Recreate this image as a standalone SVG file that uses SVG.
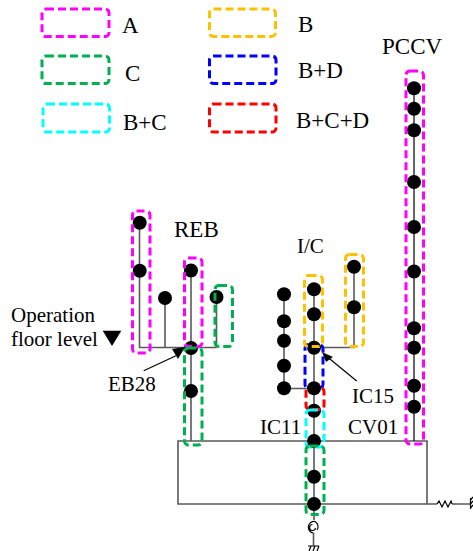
<svg xmlns="http://www.w3.org/2000/svg" width="473" height="551" viewBox="0 0 473 551">
<style>
text{font-family:"Liberation Serif","Times New Roman",serif;fill:#000;font-size:21px}
.t{font-size:23px}
.b{fill:none;stroke-width:3;stroke-dasharray:8 4}
.m{stroke:#ff00ff}.o{stroke:#ffc000}.g{stroke:#00b050}.u{stroke:#0000ff}.c{stroke:#00ffff}.r{stroke:#ff0000}
.l{fill:none;stroke:#595959;stroke-width:1.6}
.k{fill:none;stroke:#000;stroke-width:1.2}
circle{fill:#000}
</style>
<rect width="473" height="551" fill="#fff"/>
<g id="legend">
<rect class="b m" x="42" y="9" width="67" height="27.500" rx="4"/><text class="t" x="122" y="33">A</text>
<rect class="b o" x="209.500" y="9" width="66" height="27.500" rx="4"/><text class="t" x="298" y="32">B</text>
<rect class="b g" x="42" y="56" width="67" height="27.500" rx="4"/><text class="t" x="125" y="81">C</text>
<rect class="b u" x="209.500" y="56" width="66.500" height="27.500" rx="4"/><text class="t" x="298" y="77.500">B+D</text>
<rect class="b c" x="43" y="104" width="66.500" height="28" rx="4"/><text class="t" x="123" y="130">B+C</text>
<rect class="b r" x="209.500" y="104" width="66.500" height="28" rx="4"/><text class="t" x="296" y="128">B+C+D</text>
</g>
<g id="connectors">
<path class="l" d="M178 441H427V504H178V441Z"/>
<path class="l" d="M427 504H437M452 504H470"/>
<path class="k" d="M437 504l2-3 3 6 3-6 3 6 3-6 1 3"/>
<path class="k" d="M470.500 498V509M470.500 500l2.500-3M470.500 504l2.500-3M470.500 508l2.500-3"/>
<path class="l" d="M139.500 222V347.500H216.500M165 298V347.500M191 270V441M216.500 297V347.500"/>
<path class="l" d="M314 289V520M313.500 533V546M284 294V388.500H314M314 347.500H354V267"/>
<path class="k" d="M414 88V441"/>
<path class="k" d="M143.700 370.700L176 355.700M356.700 381L325 355"/>
<path class="k" d="M315 521.500A5.800 5.800 0 1 0 313.500 533M315 521.500A5.800 5.800 0 0 1 317 530M312.500 524.500A3 3 0 1 0 315.500 528"/>
<path class="k" d="M308 546H319M309 551l2-5M313 551l2-5M317 551l2-5"/>
</g>
<g id="reb">
<circle cx="139.700" cy="222.700" r="7"/><circle cx="139.700" cy="270.700" r="7"/><circle cx="165" cy="298" r="7"/><circle cx="191" cy="270.500" r="7"/><circle cx="216.500" cy="297" r="7"/><circle cx="191" cy="348" r="7"/><circle cx="191" cy="391" r="7"/>
<rect class="b m" x="132.500" y="211" width="17.500" height="142" rx="4"/>
<rect class="b m" x="184.500" y="258" width="17.500" height="88.500" rx="4"/>
<rect class="b g" x="215" y="285.500" width="17.500" height="61" rx="4"/>
<rect class="b g" x="184.500" y="348" width="17.500" height="97" rx="4"/>
<path d="M172 349L185 347L178 359Z" fill="#000"/>
<text class="t" x="174" y="237">REB</text>
</g>
<g id="floor">
<text x="11" y="322">Operation</text><text x="11" y="346" font-size="20.500">floor level</text>
<path d="M102.700 330.700H121.300L112 346Z" fill="#000"/>
<text x="108" y="391">EB28</text>
</g>
<g id="ic">
<circle cx="284" cy="294.300" r="7"/><circle cx="284" cy="321.300" r="7"/><circle cx="284" cy="340.700" r="7"/><circle cx="284" cy="365.700" r="7"/><circle cx="284" cy="388.300" r="7"/>
<circle cx="314" cy="289.300" r="7"/><circle cx="314" cy="314.300" r="7"/><circle cx="314" cy="410.700" r="7"/><circle cx="314" cy="441" r="7"/><circle cx="314" cy="476.700" r="7"/><circle cx="314" cy="504" r="7"/>
<circle cx="354" cy="266.700" r="7"/><circle cx="354" cy="307.300" r="7"/>
<rect class="b u" x="305" y="344.500" width="18" height="44" rx="4"/>
<rect class="b r" x="306" y="387.500" width="18" height="22" rx="4"/>
<circle cx="314" cy="347.700" r="7"/><circle cx="314" cy="388.300" r="7"/>
<rect class="b o" x="304.500" y="275.500" width="18" height="71" rx="4"/>
<rect class="b o" x="345.500" y="254.500" width="18" height="92" rx="4"/>
<rect class="b c" x="306" y="410" width="18" height="37" rx="4"/>
<rect class="b g" x="306" y="446" width="18" height="68.500" rx="4"/>
<path d="M322 352L333 357L326 362Z" fill="#000"/>
<text x="297" y="253">I/C</text><text x="352" y="403">IC15</text><text x="260" y="434">IC11</text><text x="348" y="434">CV01</text>
</g>
<g id="pccv">
<circle cx="414" cy="88.300" r="7"/><circle cx="414" cy="108.700" r="7"/><circle cx="414" cy="130.300" r="7"/><circle cx="414" cy="182" r="7"/><circle cx="414" cy="227" r="7"/><circle cx="414" cy="271.500" r="7"/><circle cx="414" cy="328.300" r="7"/><circle cx="414" cy="347.700" r="7"/><circle cx="414" cy="385.700" r="7"/><circle cx="414" cy="406.700" r="7"/>
<rect class="b m" x="406" y="71" width="17.500" height="373" rx="4"/>
<text class="t" x="382" y="54">PCCV</text>
</g>
</svg>
